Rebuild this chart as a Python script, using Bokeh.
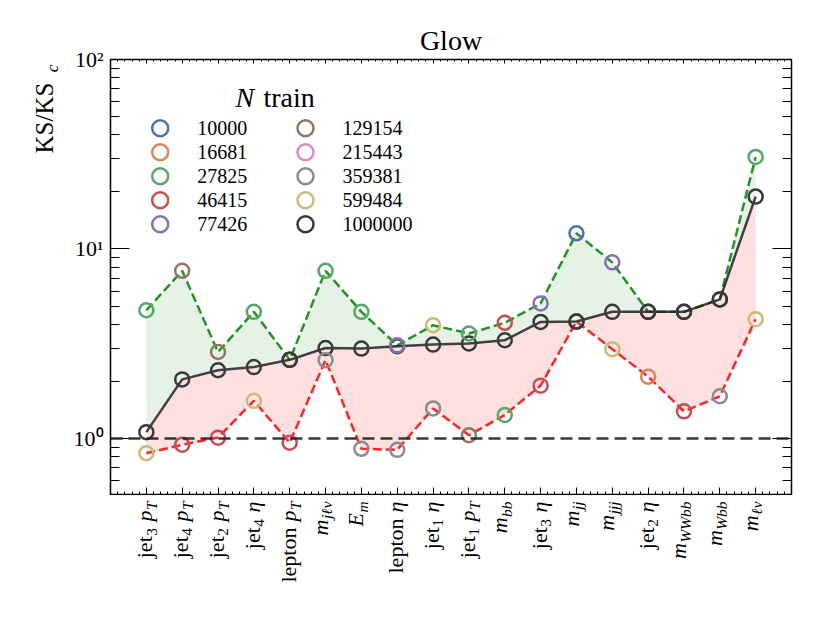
import math
from bokeh.plotting import figure
from bokeh.layouts import row, column
from bokeh.models import (Range1d, FixedTicker, LinearAxis, LogAxis, Span,
                          CustomJSTickFormatter, LinearScale, ColumnDataSource)
from bokeh.core.properties import value, field
from bokeh.embed import file_html
from bokeh.resources import INLINE

# ---------------- data ----------------
features = ["jet$_3$ $p_T$", "jet$_4$ $p_T$", "jet$_2$ $p_T$", "jet$_4$ $\\eta$",
            "lepton $p_T$", "$m_{j\\ell\\nu}$", "$E_m$", "lepton $\\eta$",
            "jet$_1$ $\\eta$", "jet$_1$ $p_T$", "$m_{bb}$", "jet$_3$ $\\eta$",
            "$m_{jj}$", "$m_{jjj}$", "jet$_2$ $\\eta$", "$m_{WWbb}$", "$m_{Wbb}$",
            "$m_{\\ell\\nu}$"]
# KS/KS_c for the largest training set (N = 1000000)
ks_ref = [1.08, 2.05, 2.29, 2.38, 2.60, 3.00, 2.98, 3.07, 3.13, 3.17, 3.30, 4.12,
          4.14, 4.66, 4.66, 4.66, 5.42, 18.9]
# worst KS/KS_c over all N and the N that gives it
ks_max = [4.75, 7.67, 2.86, 4.66, 2.60, 7.67, 4.66, 3.10, 3.96, 3.58, 4.08, 5.16,
          12.1, 8.5, 4.66, 4.66, 5.42, 30.6]
ks_max_n = [27825, 129154, 129154, 27825, 1000000, 27825, 27825, 77426, 599484,
            27825, 46415, 77426, 10000, 77426, 1000000, 1000000, 1000000, 27825]
# best KS/KS_c over all N and the N that gives it
ks_min = [0.836, 0.926, 1.01, 1.58, 0.949, 2.59, 0.882, 0.871, 1.44, 1.04, 1.33,
          1.90, 4.14, 2.96, 2.12, 1.39, 1.67, 4.26]
ks_min_n = [599484, 46415, 46415, 599484, 46415, 359381, 359381, 359381, 359381,
            129154, 27825, 46415, 1000000, 599484, 16681, 46415, 359381, 599484]
n_train = [10000, 16681, 27825, 46415, 77426, 129154, 215443, 359381, 599484, 1000000]
palette = ["#4C72B0", "#DD8452", "#55A868", "#C44E52", "#8172B3", "#937860",
           "#DA8BC3", "#8C8C8C", "#CCB974", "#3a3a3a"]
y_tick_values = [1, 10, 100]
y_tick_labels = ["10\u2070", "10\u00b9", "10\u00b2"]
title_text = "Glow"
legend_title = ["N", "train"]
ylabel_parts = ["KS/KS", "c"]

# ---------------- layout constants (pixels) ----------------
YLW = 62                 # width of the y-label strip
FL, FR, FT = 48, 31, 59  # borders of the main figure
FW, FH = 681, 436        # frame size
XLH = 121                # height of the x-label strip
HT = FT + FH + XLH
FONT = "Liberation Serif"
MID = 0.3375             # em distance between the text middle and its baseline
color_of = dict(zip(n_train, palette))

p = figure(frame_width=FW, frame_height=FH, output_backend="svg",
           toolbar_location=None, x_range=Range1d(-1, 18),
           y_range=Range1d(0.5, 100), y_axis_type="log",
           min_border_left=FL, min_border_right=FR, min_border_top=FT,
           min_border_bottom=0, background_fill_color="white",
           border_fill_color="white")
p.grid.visible = False
p.outline_line_color = "black"
p.outline_line_width = 1.5

empty = CustomJSTickFormatter(code="return ''")
xticker = FixedTicker(ticks=list(range(-1, 19)),
                      minor_ticks=[k / 5 for k in range(-5, 91)])
yminor = [0.5, 0.6, 0.7, 0.8, 0.9] + list(range(2, 10)) + list(range(20, 100, 10))
yticker = FixedTicker(ticks=y_tick_values, minor_ticks=yminor)


def style_axis(ax, maj, mnr):
    ax.axis_line_color = None
    ax.major_tick_in = maj
    ax.major_tick_out = 0
    ax.minor_tick_in = mnr
    ax.minor_tick_out = 0
    ax.major_tick_line_color = "black"
    ax.minor_tick_line_color = "black"
    ax.major_tick_line_width = 1
    ax.minor_tick_line_width = 1


xb = p.xaxis[0]
xb.ticker = xticker
xb.formatter = empty
xb.major_label_standoff = 0
xb.major_label_text_font_size = "0px"
style_axis(xb, 8, 4)

xt = LinearAxis(ticker=xticker, formatter=empty, major_label_standoff=0,
                major_label_text_font_size="0px")
style_axis(xt, 4, 2)
p.add_layout(xt, "above")

yl = p.yaxis[0]
yl.ticker = yticker
yl.major_label_overrides = dict(zip(y_tick_values, y_tick_labels))
yl.major_label_text_font = FONT
yl.major_label_text_font_size = "22px"
yl.major_label_text_color = "black"
yl.major_label_standoff = 7
style_axis(yl, 19, 9)

yr = LogAxis(ticker=yticker, formatter=empty, major_label_standoff=0,
             major_label_text_font_size="0px")
style_axis(yr, 19, 9)
p.add_layout(yr, "right")

p.title.text = title_text
p.title.text_font = FONT
p.title.text_font_size = "28px"
p.title.text_font_style = "normal"
p.title.text_color = "black"
p.title.align = "center"
p.title.standoff = 8

# ---------------- marks ----------------
x = list(range(len(features)))
p.varea(x=x, y1=ks_ref, y2=ks_max, fill_color="green", fill_alpha=0.1)
p.varea(x=x, y1=ks_min, y2=ks_ref, fill_color="red", fill_alpha=0.12)
p.add_layout(Span(location=1, dimension="width", line_color="#222222",
                  line_width=2.5, line_dash="12 6", line_alpha=0.9))
p.line(x, ks_max, line_color="green", line_alpha=0.85, line_width=2.5, line_dash="9 4")
p.line(x, ks_min, line_color="red", line_alpha=0.85, line_width=2.5, line_dash="9 4")
p.line(x, ks_ref, line_color="#222222", line_alpha=0.85, line_width=2.5)
MS, MLW = 14, 2.5
p.scatter(x, ks_ref, size=MS, fill_color=None, line_color=color_of[n_train[-1]],
          line_width=MLW)
p.scatter(x, ks_max, size=MS, fill_color=None,
          line_color=[color_of[n] for n in ks_max_n], line_width=MLW)
p.scatter(x, ks_min, size=MS, fill_color=None,
          line_color=[color_of[n] for n in ks_min_n], line_width=MLW)

# ---------------- legend (pixel space: x from frame left, y from frame bottom) ----------------
p.extra_x_ranges = {"px": Range1d(0, FW)}
p.extra_y_ranges = {"py": Range1d(0, FH)}
p.extra_x_scales = {"px": LinearScale()}
p.extra_y_scales = {"py": LinearScale()}
LX0, LDX, LY0, LDY, LTX = 49.7, 145.3, 68.8, 24.0, 37.0   # LY0 measured from top
lx = [LX0 + LDX * (i // 5) for i in range(len(n_train))]
ly = [FH - (LY0 + LDY * (i % 5)) for i in range(len(n_train))]
p.scatter(lx, ly, x_range_name="px", y_range_name="py", size=16, fill_color=None,
          line_color=palette, line_width=2.5)
p.text(x=[v + LTX for v in lx], y=ly, text=[str(n) for n in n_train],
       x_range_name="px", y_range_name="py", text_font=value(FONT),
       text_font_size="20px", text_baseline="middle", text_align="left",
       text_color="black")
LT_FS, LT_BASE = 28, 47.5      # legend title size and baseline (from frame top)
lt_y = FH - (LT_BASE - MID * LT_FS)
p.text(x=[125, 153], y=[lt_y, lt_y], text=legend_title,
       text_font_style=["italic", "normal"], x_range_name="px", y_range_name="py",
       text_font=value(FONT), text_font_size=f"{LT_FS}px", text_baseline="middle",
       text_align="left", text_color="black")

# ---------------- y-axis label strip (y measured from the strip bottom) ----------------
py_lab = figure(width=YLW, height=HT, output_backend="svg",
                toolbar_location=None, x_range=Range1d(0, YLW),
                y_range=Range1d(0, HT), x_axis_location=None,
                y_axis_location=None, min_border=0, min_border_left=0,
                min_border_right=0, min_border_top=0, min_border_bottom=0,
                outline_line_color=None, background_fill_color="white",
                border_fill_color="white")
py_lab.grid.visible = False
YL_FS = [25.0, 17.5]
YL_BASE = [52.0, 57.0]
py_lab.text(x=[b - MID * f for b, f in zip(YL_BASE, YL_FS)], y=[HT - 153, HT - 71.7],
            text=ylabel_parts, angle=math.pi / 2,
            text_font=value(FONT), text_font_style=["normal", "italic"],
            text_font_size=[f"{f}px" for f in YL_FS], text_align="left",
            text_baseline="middle", text_color="black")

# ---------------- x tick labels (mathtext-like, rotated) ----------------
GREEK = {"\\eta": "\u03b7", "\\ell": "\u2113", "\\nu": "\u03bd"}
ROMAN_W = {"j": .278, "e": .444, "t": .278, "l": .278, "p": .5, "o": .5, "n": .5, " ": .25}
ITALIC_W = {"p": .5, "T": .556, "m": .722, "E": .611, "j": .278, "b": .5, "W": .833,
            "\u03b7": .5, "\u2113": .417, "\u03bd": .444}


def read_token(s, i):
    if s[i] == "\\":
        j = i + 1
        while j < len(s) and s[j].isalpha():
            j += 1
        return GREEK[s[i:j]], j
    return s[i], i + 1


def parse(label):
    pieces = []

    def add(ch, italic, sub):
        if pieces and pieces[-1][1] == italic and pieces[-1][2] == sub:
            pieces[-1][0] += ch
        else:
            pieces.append([ch, italic, sub])

    math_mode = False
    i = 0
    while i < len(label):
        c = label[i]
        if c == "$":
            math_mode = not math_mode
            i += 1
            continue
        if math_mode and c == "_":
            i += 1
            if label[i] == "{":
                j = label.index("}", i)
                inner = label[i + 1:j]
                k = 0
                while k < len(inner):
                    ch, k = read_token(inner, k)
                    add(ch, not ch.isdigit(), True)
                i = j + 1
            else:
                ch, i = read_token(label, i)
                add(ch, not ch.isdigit(), True)
            continue
        ch, i = read_token(label, i)
        add(ch, math_mode and not ch.isdigit(), False)
    return pieces


FS, SUB, SUB_SHIFT, Y_TOP = 22.0, 0.7, 4.5, 6.0
cols = dict(x=[], y=[], text=[], style=[], fs=[], xo=[])
for idx, lab in enumerate(features):
    base = 2 if lab.startswith("$") else 6
    cursor = Y_TOP
    for text, italic, sub in reversed(parse(lab)):
        fs = FS * SUB if sub else FS
        table = ITALIC_W if italic else ROMAN_W
        cols["x"].append(idx)
        cols["y"].append(XLH - cursor)
        cols["text"].append(text)
        cols["style"].append("italic" if italic else "normal")
        cols["fs"].append(f"{fs:.1f}px")
        cols["xo"].append(base + (SUB_SHIFT if sub else 0) - MID * fs)
        cursor += sum(table.get(ch, 0.5) for ch in text) * fs + 0.5

px_lab = figure(frame_width=FW, frame_height=XLH, output_backend="svg",
                toolbar_location=None, x_range=p.x_range, y_range=Range1d(0, XLH),
                x_axis_location=None, y_axis_location=None,
                min_border_left=FL, min_border_right=FR, min_border_top=0,
                min_border_bottom=0, outline_line_color=None,
                background_fill_color="white", border_fill_color="white")
px_lab.grid.visible = False
px_lab.text(x="x", y="y", text="text", source=ColumnDataSource(cols),
            angle=math.pi / 2, x_offset=field("xo"), text_font=value(FONT),
            text_font_style=field("style"), text_font_size=field("fs"),
            text_align="right", text_baseline="middle", text_color="black")

layout = row(py_lab, column(p, px_lab, spacing=0), spacing=0)
open("out.html", "w").write(file_html(layout, INLINE))
